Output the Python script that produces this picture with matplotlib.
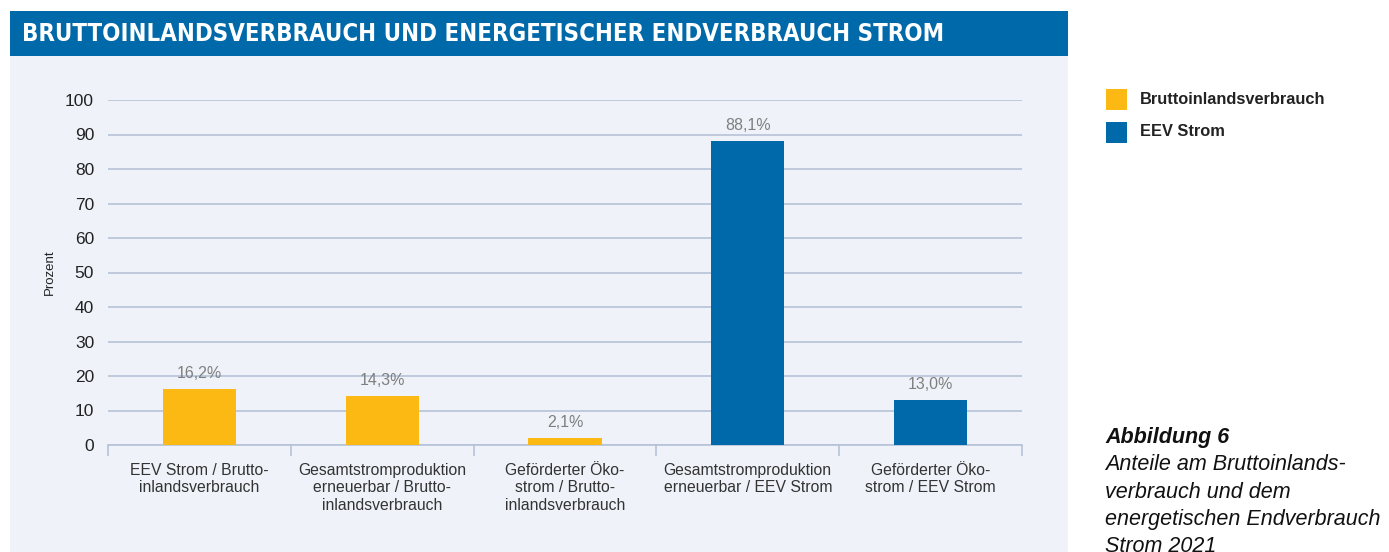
import numpy as np
import matplotlib.pyplot as plt
from matplotlib.patches import Rectangle

categories = ["EEV Strom / Brutto-\ninlandsverbrauch",
              "Gesamtstromproduktion\nerneuerbar / Brutto-\ninlandsverbrauch",
              "Geförderter Öko-\nstrom / Brutto-\ninlandsverbrauch",
              "Gesamtstromproduktion\nerneuerbar / EEV Strom",
              "Geförderter Öko-\nstrom / EEV Strom"]
values = [16.2, 14.3, 2.1, 88.1, 13.0]
series = ["Bruttoinlandsverbrauch", "Bruttoinlandsverbrauch", "Bruttoinlandsverbrauch",
          "EEV Strom", "EEV Strom"]
legend_names = ["Bruttoinlandsverbrauch", "EEV Strom"]
yticks = [0, 10, 20, 30, 40, 50, 60, 70, 80, 90, 100]

colors = {"Bruttoinlandsverbrauch": "#FDB913", "EEV Strom": "#0069AA"}
gridc = "#B6C2D8"
plt.rcParams['font.family'] = ['Liberation Sans', 'DejaVu Sans']

W, H = 1389, 552
fig = plt.figure(figsize=(W/100, H/100), dpi=100)

# panel background and title banner
fig.patches.append(Rectangle((10/W, 0), 1058/W, 1 - 56/H, transform=fig.transFigure,
                             facecolor="#EFF3F9", edgecolor="none", zorder=0))
fig.patches.append(Rectangle((10/W, 1 - 56/H), 1058/W, 45/H, transform=fig.transFigure,
                             facecolor="#0069AA", edgecolor="none", zorder=0))
fig.text(22/W, 1 - 34/H, "BRUTTOINLANDSVERBRAUCH UND ENERGETISCHER ENDVERBRAUCH STROM",
         color="white", fontsize=17.2, fontweight="bold", family="DejaVu Sans",
         fontstretch="condensed", va="center", ha="left")

ax = fig.add_axes([108/W, 1 - 445/H, 914/W, 345/H])
ax.set_zorder(2)
ax.set_facecolor("none")
x = np.arange(len(categories))
ax.bar(x, values, width=0.4, color=[colors[s] for s in series], zorder=3)
for xi, v in zip(x, values):
    ax.text(xi, v + 2.3, f"{v:.1f}%".replace(".", ","), ha="center", va="bottom",
            fontsize=11.5, color="#7F7F7F")

ax.set_xlim(-0.5, len(categories) - 0.5)
ax.set_ylim(0, 100)
ax.set_yticks(yticks)
ax.yaxis.grid(True, color=gridc, linewidth=1.2, zorder=0)
ax.set_axisbelow(True)
for s in ["top", "right", "left"]:
    ax.spines[s].set_visible(False)
ax.spines["bottom"].set_color(gridc)
ax.spines["bottom"].set_linewidth(1.2)
ax.tick_params(axis="y", length=0, labelsize=12.5, colors="#222222", pad=10)
ax.set_xticks(x)
ax.set_xticklabels(categories, fontsize=11.3, color="#333333", linespacing=1.2)
ax.tick_params(axis="x", which="major", length=0, pad=13)
ax.set_xticks(np.arange(-0.5, len(categories)), minor=True)
ax.tick_params(axis="x", which="minor", length=8, width=1.2, color=gridc)
ax.set_ylabel("Prozent", fontsize=9.5, color="#222222", labelpad=7)

# legend
for i, name in enumerate(legend_names):
    yc = 99 + i * 33
    fig.patches.append(Rectangle((1106/W, 1 - (yc + 11)/H), 21/W, 21/H,
                                 transform=fig.transFigure, facecolor=colors[name],
                                 edgecolor="none"))
    fig.text(1140/W, 1 - yc/H, name, fontsize=11.8, color="#222222",
             va="center", ha="left", fontweight="bold")

# caption
fig.text(1105/W, 1 - 437/H, "Abbildung 6", fontsize=15.5, fontweight="bold",
         style="italic", color="#111111", va="center", ha="left")
caption = ["Anteile am Bruttoinlands-", "verbrauch und dem",
           "energetischen Endverbrauch", "Strom 2021"]
for i, line in enumerate(caption):
    fig.text(1105/W, 1 - (465 + i * 27.3)/H, line, fontsize=15.5, style="italic",
             color="#111111", va="center", ha="left")

fig.savefig("out.png", dpi=100)
